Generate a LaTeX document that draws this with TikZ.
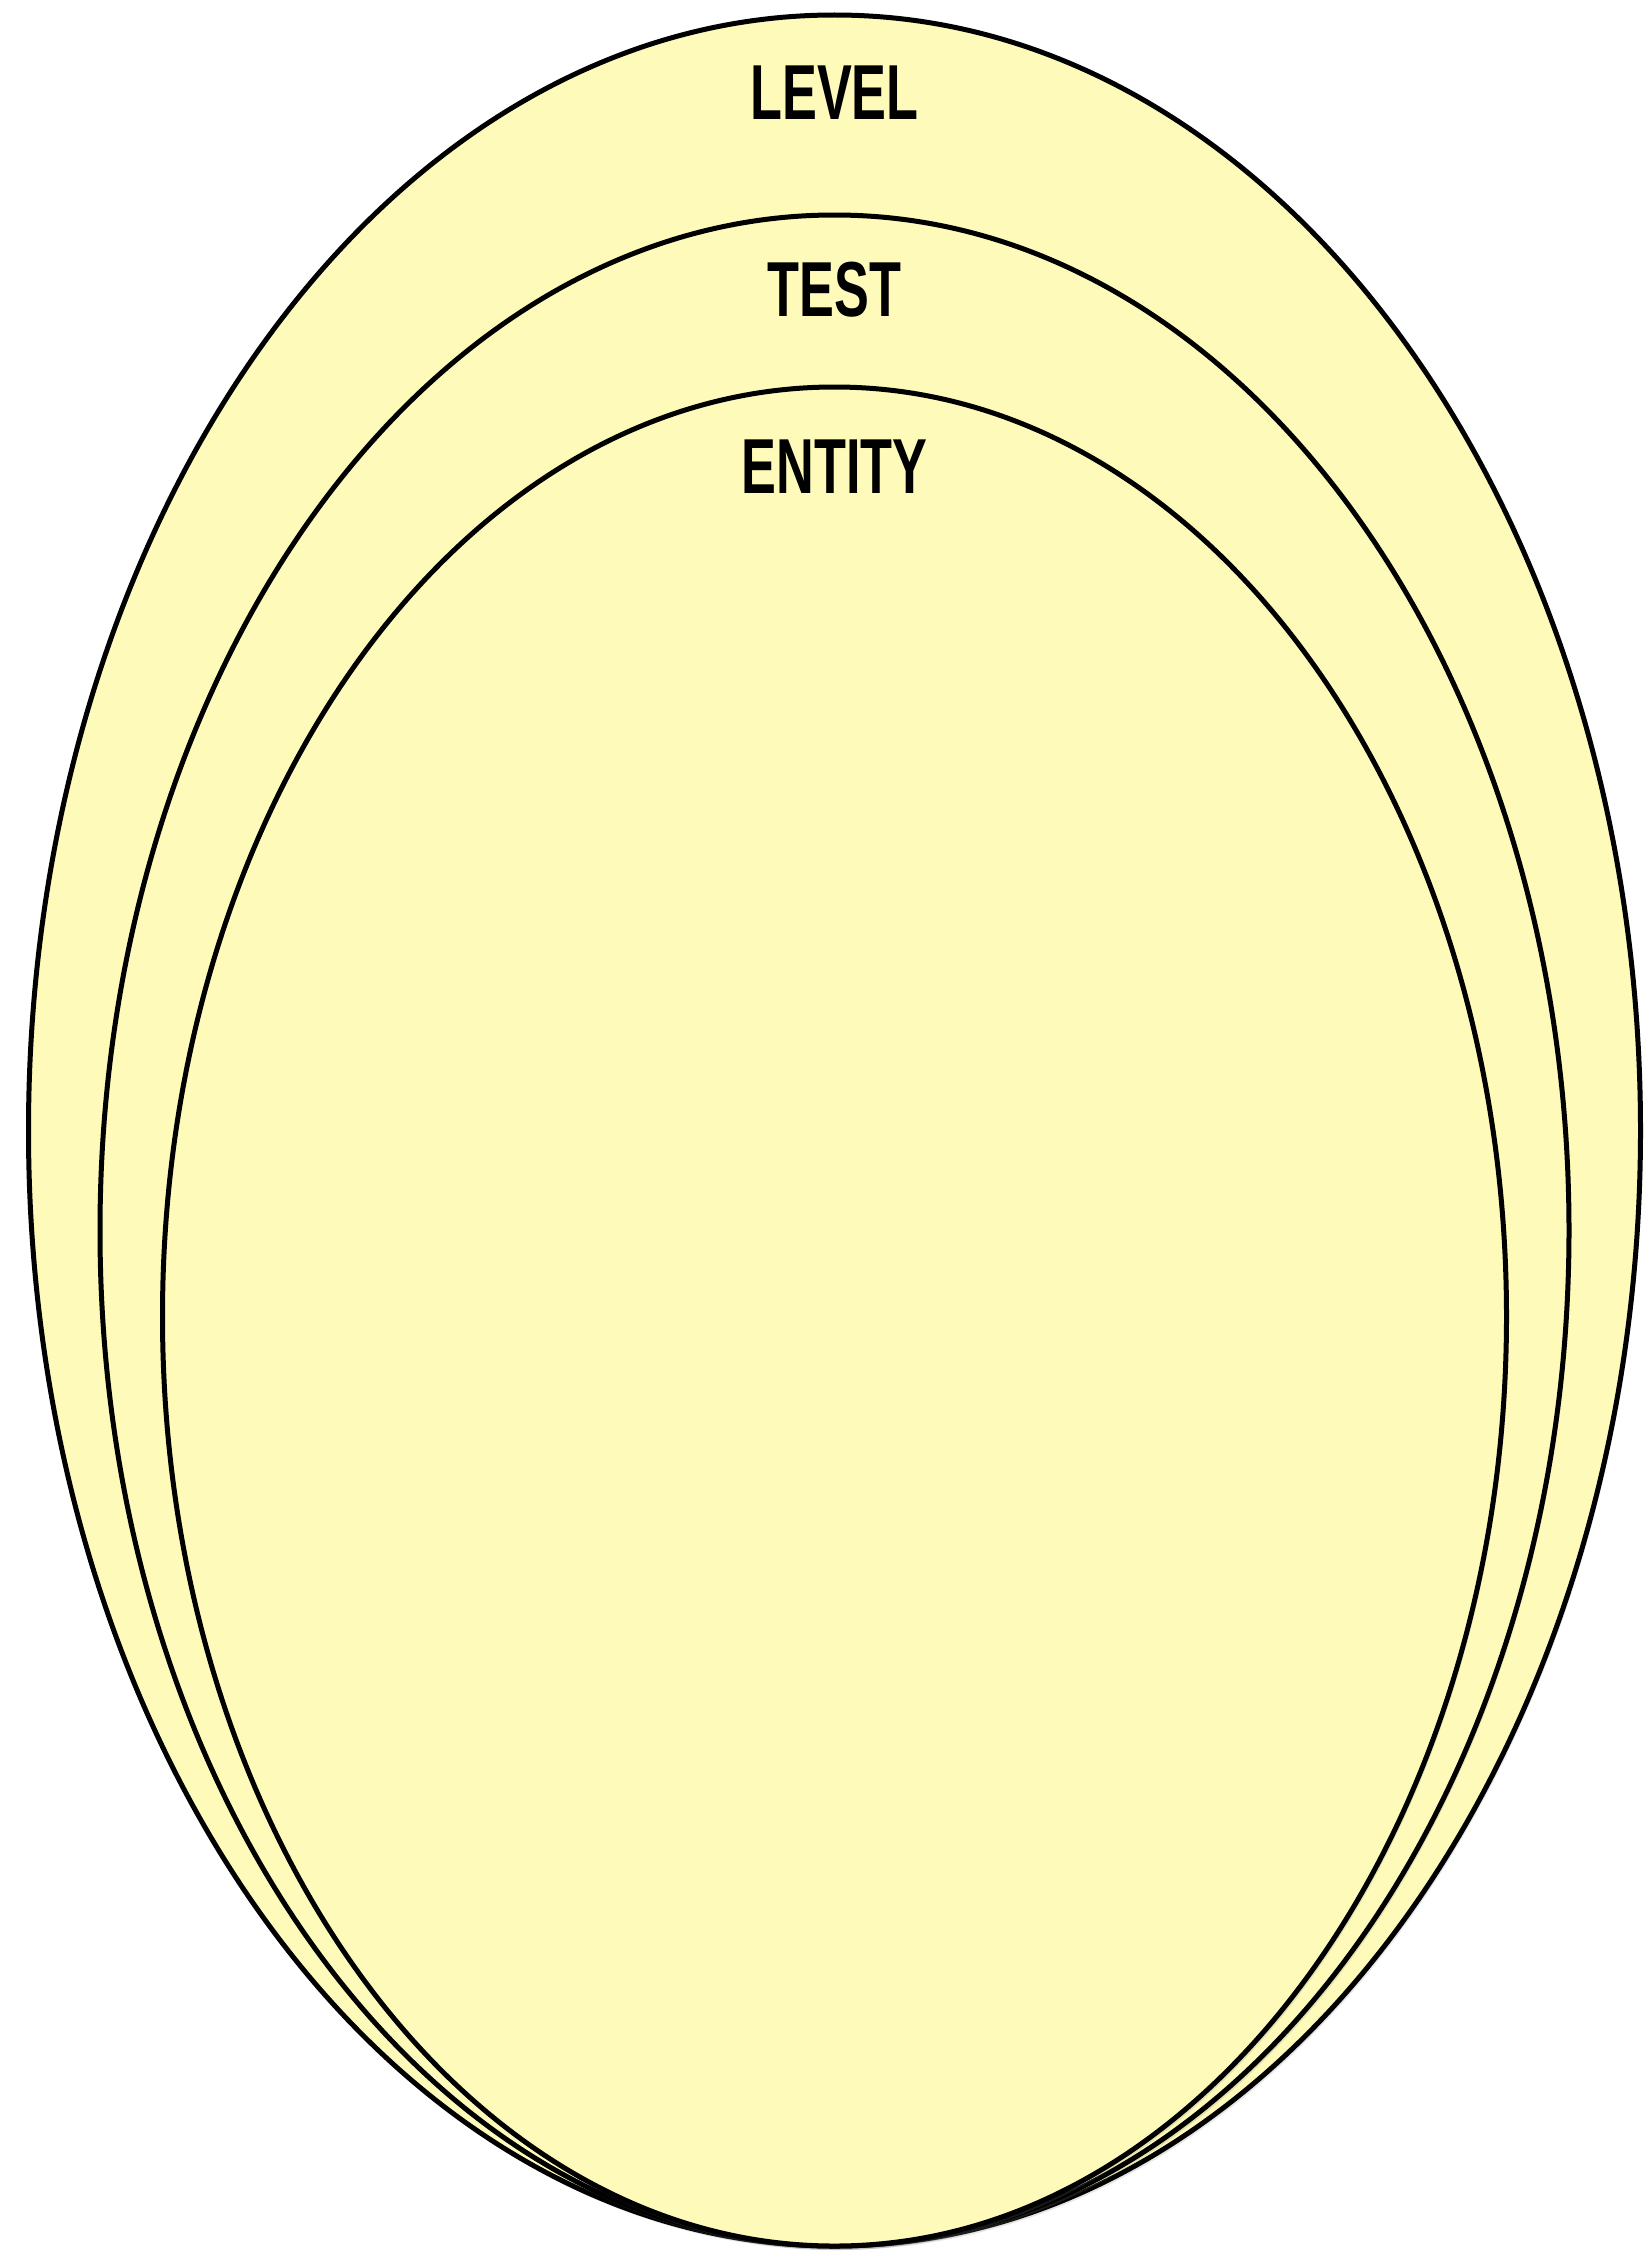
\documentclass[tikz,border=0pt]{standalone}
\usepackage{fontspec}
\setmainfont{Liberation Sans}[FakeStretch=0.67]
\usetikzlibrary{shadows}
\definecolor{paleyellow}{RGB}{253,250,186}
\tikzset{
  layer/.style={fill=paleyellow, draw=black, line width=5pt,
    drop shadow={opacity=0.2, shadow xshift=2pt, shadow yshift=-4pt}},
  layername/.style={anchor=base, inner sep=0pt, font=\bfseries\fontsize{78}{80}\selectfont}
}
\begin{document}
\begin{tikzpicture}[x=1pt, y=-1pt]
    \useasboundingbox (0,0) rectangle (1645,2256);
    \def\cx{834.5}

    \path[layer] (\cx,1130.5) ellipse [x radius=806, y radius=1115.5];
    \path[layer] (\cx,1230.5) ellipse [x radius=734.5, y radius=1015.5];
    \path[layer] (\cx,1316.5) ellipse [x radius=672, y radius=929.5];

    \node[layername] (level) at (\cx,120) {LEVEL};
    \node[layername] (test) at (\cx,316) {TEST};
    \node[layername] (entity) at (\cx,493) {ENTITY};
  \end{tikzpicture}
\end{document}
